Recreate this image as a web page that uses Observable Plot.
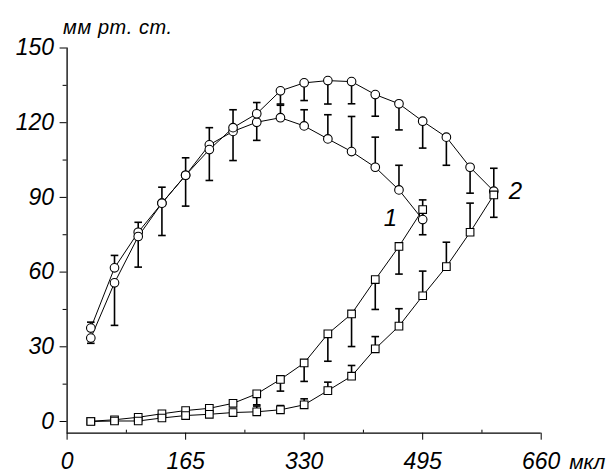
<!DOCTYPE html>
<html>
<head>
<meta charset="utf-8">
<script src="https://cdn.jsdelivr.net/npm/d3@7"></script>
<script src="https://cdn.jsdelivr.net/npm/@observablehq/plot@0.6"></script>
<style>
  html, body { margin: 0; padding: 0; background: #fff; }
  #chart svg { display: block; }
</style>
</head>
<body>
<div id="chart"></div>
<script>
// ---- data ----
const xVolume = [33, 66, 99, 132, 165, 198, 231, 264, 297, 330, 363, 396, 429, 462, 495, 528, 561, 594];

// Curve 1 (ends at 495 µl)
const c1Circle    = [37.5, 61.7, 76.0, 87.7, 98.9, 111.1, 116.5, 120.2, 122.0, 118.7, 113.5, 108.4, 102.1, 93.0, 81.1];
const c1CircleCap = [39.9, 66.7, 80.0, 94.1, 105.9, 118.0, 125.2, 128.1, 127.0, 125.2, 123.2, 122.5, 114.2, 102.9, 89.0];
const c1Square    = [0.1, 0.7, 1.7, 3.1, 4.4, 5.3, 7.3, 11.1, 16.9, 23.5, 35.2, 43.2, 57.0, 70.3, 85.1];
const c1SquareCap = [null, null, null, null, null, null, null, 6.7, 12.2, 16.1, 24.2, 30.1, 45.0, 59.2, 75.0];

// Curve 2 (ends at 594 µl)
const c2Circle    = [33.5, 55.7, 74.3, 87.7, 98.9, 109.2, 118.0, 123.6, 132.8, 136.0, 136.9, 136.5, 131.3, 127.6, 120.6, 114.2, 102.1, 92.5];
const c2CircleCap = [31.4, 38.6, 62.0, 74.7, 86.5, 96.8, 104.8, 112.9, 127.5, 128.9, 127.5, 127.6, 122.6, 117.1, 109.8, 102.9, 91.7, 82.0];
const c2Square    = [0.0, 0.2, 0.2, 1.4, 2.4, 2.9, 3.6, 3.9, 4.7, 6.7, 12.4, 18.2, 29.2, 38.3, 50.5, 62.2, 76.0, 91.0];
const c2SquareCap = [null, null, null, null, null, null, null, 6.2, 6.4, 9.1, 15.8, 22.5, 34.1, 45.3, 60.4, 72.0, 87.7, 101.7];

const yTicks = [0, 30, 60, 90, 120, 150];
const yMinor = [15, 45, 75, 105, 135];
const xTicks = [0, 165, 330, 495, 660];
const xMinor = [82.5, 247.5, 412.5, 577.5];
const yUnit = "мм рт. ст.";
const xUnit = "мкл";
const curveLabels = [{text: "1", x: 450, y: 81.5}, {text: "2", x: 624, y: 92.5}];

// ---- build rows ----
function rows(series, shape, ys, caps) {
  return ys.map((y, i) => ({series, shape, x: xVolume[i], y, cap: caps[i]}));
}
const data = [
  ...rows("c1c", "circle", c1Circle, c1CircleCap),
  ...rows("c1s", "square", c1Square, c1SquareCap),
  ...rows("c2c", "circle", c2Circle, c2CircleCap),
  ...rows("c2s", "square", c2Square, c2SquareCap)
];
const withCap = data.filter(d => d.cap != null);

const yMin = -4.7;
const capSymbol = {
  draw(context, size) {
    const w = Math.sqrt(size / Math.PI); // = r
    context.moveTo(-w, 0);
    context.lineTo(w, 0);
  }
};

const chart = Plot.plot({
  width: 609,
  height: 473,
  marginLeft: 66.6,
  marginRight: 68.3,
  marginTop: 47.5,
  marginBottom: 40.3,
  x: {domain: [0, 660]},
  y: {domain: [yMin, 150]},
  style: {fontFamily: "'Liberation Sans', Arial, sans-serif", fontStyle: "italic", color: "#000", background: "#fff"},
  marks: [
    Plot.axisY({ticks: yTicks, tickSize: 7, tickPadding: 6, fontSize: 23, label: null}),
    Plot.axisY({ticks: yMinor, tickSize: 4, tickFormat: () => "", label: null}),
    Plot.axisX({ticks: xTicks, tickSize: 7, tickPadding: 12.5, fontSize: 23, label: null}),
    Plot.axisX({ticks: xMinor, tickSize: -3, tickFormat: () => "", label: null}),
    Plot.ruleX([0], {y1: yMin, y2: 150, stroke: "#000", strokeWidth: 1.3}),
    Plot.ruleY([yMin], {x1: 0, x2: 660, stroke: "#000", strokeWidth: 1.3}),
    Plot.line(data, {x: "x", y: "y", z: "series", stroke: "#000", strokeWidth: 1}),
    Plot.link(withCap, {x1: "x", x2: "x", y1: "y", y2: "cap", stroke: "#000", strokeWidth: 1.6}),
    Plot.dot(withCap, {x: "x", y: "cap", symbol: capSymbol, r: 3.8, stroke: "#000", strokeWidth: 1.6}),
    Plot.dot(data.filter(d => d.shape === "circle"), {x: "x", y: "y", symbol: "circle", r: 4.3, fill: "#fff", stroke: "#000", strokeWidth: 1.1}),
    Plot.dot(data.filter(d => d.shape === "square"), {x: "x", y: "y", symbol: "square", r: 4.3, fill: "#fff", stroke: "#000", strokeWidth: 1.1}),
    Plot.text(curveLabels, {x: "x", y: "y", text: "text", fontSize: 24, fill: "#000"}),
    Plot.text([yUnit], {frameAnchor: "top-left", textAnchor: "start", dx: -4, dy: -28, fontSize: 20, fill: "#000"}),
    Plot.text([xUnit], {frameAnchor: "bottom-right", textAnchor: "start", dx: 28, dy: 36, fontSize: 21, fill: "#000"})
  ]
});
chart.querySelectorAll('g[aria-label="text"] text').forEach(t => {
  if (t.textContent === yUnit) t.setAttribute("letter-spacing", "0.6");
});
document.getElementById("chart").append(chart);
</script>
</body>
</html>
